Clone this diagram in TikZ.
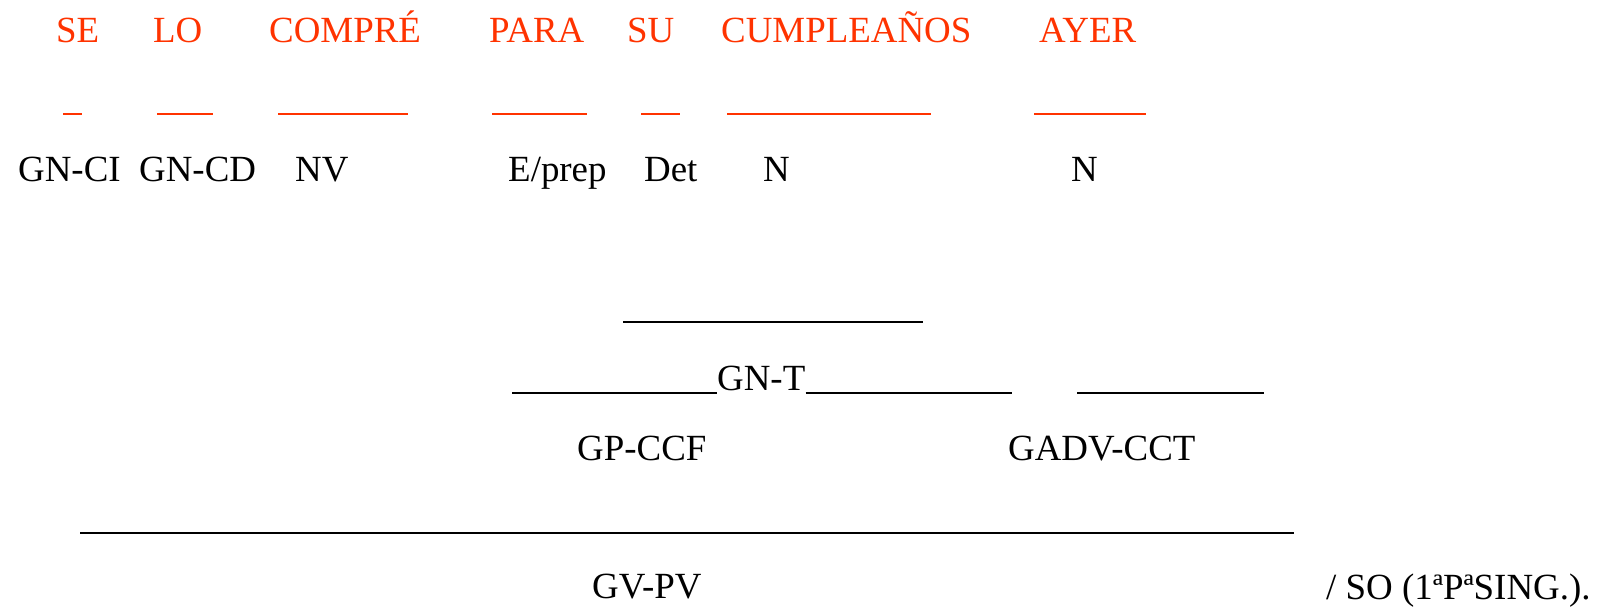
\documentclass[tikz,border=0pt]{standalone}
\usepackage{fontspec}
\setmainfont{Liberation Serif}
\definecolor{wred}{RGB}{255,51,0}
\begin{document}
\begin{tikzpicture}[x=1pt,y=-1pt,
  lbl/.style={anchor=base west,inner sep=0pt,font=\fontsize{36.9}{44}\selectfont},
  word/.style={lbl,text=wred},
  redline/.style={draw=wred,line width=2pt},
  blkline/.style={draw=black,line width=2pt}]
\useasboundingbox (0,0) rectangle (1600,608);
% sentence words
\node[word] (se) at (56,42.7) {SE};
\node[word] (lo) at (153,42.7) {LO};
\node[word] (compre) at (269,42.7) {COMPRÉ};
\node[word] (para) at (489,42.7) {PARA};
\node[word] (su) at (627,42.7) {SU};
\node[word] (cumple) at (721,42.7) {CUMPLEAÑOS};
\node[word] (ayer) at (1039,42.7) {AYER};
% red underscores
\draw[redline] (63,114) -- (82,114);
\draw[redline] (157,114) -- (213,114);
\draw[redline] (278,114) -- (408,114);
\draw[redline] (492,114) -- (587,114);
\draw[redline] (641,114) -- (680,114);
\draw[redline] (727,114) -- (931,114);
\draw[redline] (1034,114) -- (1146,114);
% categories
\node[lbl] (gnci) at (18,181.7) {GN-CI};
\node[lbl] (gncd) at (139,181.7) {GN-CD};
\node[lbl] (nv) at (295,181.7) {NV};
\node[lbl] (eprep) at (508,181.7) {E/prep};
\node[lbl] (det) at (644,181.7) {Det};
\node[lbl] (n1) at (763,181.7) {N};
\node[lbl] (n2) at (1071,181.7) {N};
% GN-T
\draw[blkline] (623,322) -- (923,322);
\node[lbl] (gnt) at (717,390) {GN-T};
\draw[blkline] (512,393) -- (gnt.base west |- 0,393);
\draw[blkline] (gnt.base east |- 0,393) -- (1012,393);
\draw[blkline] (1077,393) -- (1264,393);
\node[lbl] (gpccf) at (577,460) {GP-CCF};
\node[lbl] (gadv) at (1008,460) {GADV-CCT};
% GV-PV
\draw[blkline] (80,533) -- (1294,533);
\node[lbl] (gvpv) at (592,598) {GV-PV};
\node[lbl] (so) at (1326,599) {/ SO (1ªPªSING.).};
\end{tikzpicture}
\end{document}
